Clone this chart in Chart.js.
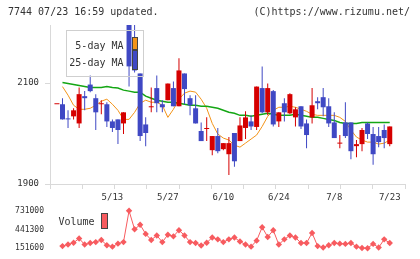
<!DOCTYPE html>
<html><head><meta charset="utf-8">
<script src="https://cdn.jsdelivr.net/npm/chart.js@4.4.1/dist/chart.umd.min.js"></script>
<style>
html,body{margin:0;padding:0;background:#fff;}
#wrap{position:relative;width:420px;height:259px;overflow:hidden;background:#fff;}
#main{position:absolute;left:0;top:0;}
#vol{position:absolute;left:0;top:200px;}
</style></head><body>
<div id="wrap"><canvas id="main" width="420" height="203"></canvas><canvas id="vol" width="420" height="59"></canvas></div>
<script>
const headerLeft = '7744 07/23 16:59 updated.';
const headerRight = '(C)https://www.rizumu.net/';
const dates = ['4/24','4/25','4/26','4/30','5/1','5/2','5/7','5/8','5/9','5/10','5/13','5/14','5/15','5/16','5/17','5/20','5/21','5/22','5/23','5/24','5/27','5/28','5/29','5/30','5/31','6/3','6/4','6/5','6/6','6/7','6/10','6/11','6/12','6/13','6/14','6/17','6/18','6/19','6/20','6/21','6/24','6/25','6/26','6/27','6/28','7/1','7/2','7/3','7/4','7/5','7/8','7/9','7/10','7/11','7/12','7/16','7/17','7/18','7/19','7/22','7/23'];
const xTickLabels = ['5/13','5/27','6/10','6/24','7/8','7/23'];
const yTicks = [1900, 2100];
const volTicks = [151600, 441300, 731000];
const open  = [2058,2058,2030,2034,2020,2074,2097,2070,2058,2058,2024,2028,2020,2225,2164,2119,2018,2052,2090,2058,2066,2090,2054,2119,2070,2050,2005,2009,1967,1995,1969,1959,2001,1985,2011,2024,2013,2090,2042,2084,2024,2060,2040,2032,2054,2020,2032,2064,2072,2054,2022,1980,2022,2022,1975,1979,2020,1999,1995,2007,1979];
const high  = [2058,2070,2046,2050,2091,2084,2115,2078,2066,2062,2028,2028,2042,2240,2240,2119,2032,2091,2115,2066,2099,2103,2149,2119,2076,2076,2022,2032,1995,2011,1981,1993,2001,2032,2044,2036,2093,2133,2099,2086,2042,2070,2080,2052,2054,2028,2090,2072,2090,2070,2042,1997,2062,2022,1987,2011,2022,2013,2013,2018,2014];
const low   = [2058,2028,2011,2028,2011,2046,2082,2007,2038,2013,2003,1979,1999,2093,2121,1985,1975,2042,2042,2042,2066,2054,2054,2058,2036,2020,1985,1985,1957,1961,1967,1918,1934,1985,1989,2007,2007,2040,2036,2014,2013,2024,2038,2014,2009,1971,2020,2048,2034,2013,1991,1971,1991,1949,1953,1965,1989,1938,1973,1971,1975];
const close = [2058,2028,2028,2046,2078,2070,2084,2042,2058,2024,2011,2007,2042,2133,2125,1995,2001,2052,2060,2052,2099,2054,2125,2088,2056,2020,1985,2009,1995,1965,1981,1981,1945,2016,2032,2014,2093,2042,2090,2018,2042,2042,2078,2048,2014,1997,2056,2060,2052,2020,1991,1980,1995,1965,1979,2007,1999,1959,1983,1991,2014];
const ma5  = [null,2093,2076,2056,2048,2048,2050,2056,2064,2068,2058,2046,2028,2028,2042,2060,2066,2062,2062,2056,2032,2048,2068,2080,2084,2082,2068,2050,2020,1999,1991,1987,1977,1973,1981,1989,1997,2014,2034,2046,2052,2052,2054,2052,2048,2044,2038,2036,2036,2036,2036,2032,2024,2007,1993,1987,1983,1983,1979,1981,1987];
const ma25 = [null,2101,2099,2097,2095,2093,2091,2091,2091,2093,2091,2090,2086,2084,2082,2082,2074,2070,2066,2064,2062,2062,2060,2058,2056,2056,2054,2054,2052,2050,2046,2042,2040,2036,2036,2034,2036,2038,2040,2038,2036,2036,2036,2038,2036,2034,2032,2032,2030,2028,2026,2022,2020,2020,2020,2022,2022,2022,2022,2022,2022];
const volume = [null,184100,208100,236400,302800,208100,232100,246300,278800,198200,175600,222200,246300,731000,444100,514800,373500,278800,349400,246300,359300,335300,430000,349400,246300,232100,194000,236400,316900,288700,246300,288700,316900,254800,208100,175600,268900,476600,325400,430000,208100,288700,349400,316900,232100,232100,387600,184100,161500,198200,232100,222200,218000,232100,175600,155000,151600,218000,161500,288700,232100];

const MONO = "'DejaVu Sans Mono', monospace";
const RED = '#d50000', BLUE = '#3f48c4', ORANGE = '#f39419', GREEN = '#14a614', VOLC = '#f75b5f';
const AXIS = '#d9d9d9', TXT = '#333';
const X_MIN = -1.25, X_MAX = 62.75;
const idx = dates.map((d, i) => i);
const candleColor = idx.map(i => close[i] >= open[i] ? RED : BLUE);

const headerPlugin = {
  id: 'header',
  afterDraw(chart) {
    const ctx = chart.ctx;
    ctx.save();
    ctx.font = '10px ' + MONO;
    ctx.fillStyle = TXT;
    ctx.textAlign = 'right';
    ctx.textBaseline = 'middle';
    ctx.fillText(headerRight, 410, 12.5);
    ctx.restore();
  }
};

const maLegend = {
  id: 'maLegend',
  afterDatasetsDraw(chart) {
    const ctx = chart.ctx, ds = chart.data.datasets;
    ctx.save();
    ctx.strokeStyle = '#cfcfcf';
    ctx.lineWidth = 1;
    ctx.strokeRect(66.5, 30.5, 77, 46);
    ctx.font = '10px ' + MONO;
    ctx.fillStyle = TXT;
    ctx.textAlign = 'right';
    ctx.textBaseline = 'middle';
    ctx.fillText(ds[0].label, 123.5, 46.5);
    ctx.fillText(ds[1].label, 123.5, 63);
    ctx.fillStyle = ds[0].borderColor;
    ctx.fillRect(132, 37, 6, 13);
    ctx.strokeStyle = '#444';
    ctx.strokeRect(132.5, 37.5, 5, 12);
    ctx.strokeRect(132.5, 50.5, 5, 19);
    ctx.restore();
  }
};

new Chart(document.getElementById('main'), {
  type: 'bar',
  data: {
    datasets: [
      { type: 'line', label: '5-day MA', data: idx.map(i => ({ x: i, y: ma5[i] })), borderColor: ORANGE, borderWidth: 1, pointRadius: 0, tension: 0, order: 3 },
      { type: 'line', label: '25-day MA', data: idx.map(i => ({ x: i, y: ma25[i] })), borderColor: GREEN, borderWidth: 1.5, pointRadius: 0, tension: 0, order: 2 },
      { label: 'wick', data: idx.map(i => ({ x: i, y: [low[i], high[i]] })), backgroundColor: candleColor, barThickness: 1, maxBarThickness: 1, inflateAmount: 0, grouped: false, clip: 0, order: 1 },
      { label: 'body', data: idx.map(i => ({ x: i, y: [Math.min(open[i], close[i]), Math.max(open[i], close[i])] })), backgroundColor: candleColor, barThickness: 5, maxBarThickness: 5, inflateAmount: 0, minBarLength: 1, grouped: false, clip: 0, order: 0 }
    ]
  },
  options: {
    responsive: false, animation: false,
    layout: { padding: { left: 8, right: 15, top: 0, bottom: 0 } },
    plugins: {
      legend: { display: false }, tooltip: { enabled: false },
      title: { display: true, text: headerLeft, align: 'start', color: TXT, font: { family: MONO, size: 10, weight: 'normal' }, padding: { top: 6.5, bottom: 6.5 } }
    },
    scales: {
      x: {
        type: 'linear', position: 'bottom', min: X_MIN, max: X_MAX, weight: 1, offset: false,
        afterBuildTicks: s => { s.ticks = xTickLabels.map(l => ({ value: dates.indexOf(l) })); },
        ticks: { callback: v => dates[v], color: TXT, font: { family: MONO, size: 9 }, padding: 3, maxRotation: 0, autoSkip: false },
        grid: { display: false, drawTicks: false, offset: false }, border: { display: false },
        afterFit: s => { s.height = 14; }
      },
      xm: {
        type: 'linear', position: 'bottom', min: X_MIN, max: X_MAX, weight: 0, offset: false,
        afterBuildTicks: s => { const n = 11; s.ticks = Array.from({ length: n + 1 }, (_, k) => ({ value: X_MIN + (X_MAX - X_MIN) * k / n })); },
        ticks: { display: false },
        grid: { display: true, drawOnChartArea: false, drawTicks: true, tickLength: 5, color: AXIS, offset: false },
        border: { display: true, color: AXIS },
        afterFit: s => { s.height = 5; }
      },
      y: {
        min: 1900, max: 2215,
        afterBuildTicks: s => { s.ticks = yTicks.map(v => ({ value: v })); },
        ticks: { callback: v => String(v), color: TXT, font: { family: MONO, size: 9 }, padding: 6 },
        grid: { display: true, drawOnChartArea: false, drawTicks: true, tickLength: 5, color: AXIS },
        border: { display: true, color: AXIS },
        afterFit: s => { s.width = 42; }
      }
    }
  },
  plugins: [headerPlugin, maLegend]
});

const volLegend = {
  id: 'volLegend',
  afterDatasetsDraw(chart) {
    const ctx = chart.ctx, ds = chart.data.datasets[0];
    ctx.save();
    ctx.font = '10px ' + MONO;
    ctx.fillStyle = TXT;
    ctx.textAlign = 'right';
    ctx.textBaseline = 'middle';
    ctx.fillText(ds.label, 94.5, 22);
    ctx.fillStyle = ds.borderColor;
    ctx.fillRect(101.5, 13.5, 6, 15);
    ctx.strokeStyle = '#444';
    ctx.lineWidth = 1;
    ctx.strokeRect(101.5, 13.5, 6, 15);
    ctx.restore();
  }
};

new Chart(document.getElementById('vol'), {
  type: 'line',
  data: {
    datasets: [{
      label: 'Volume', data: idx.map(i => ({ x: i, y: volume[i] })),
      borderColor: VOLC, backgroundColor: VOLC, borderWidth: 1,
      pointStyle: 'rectRot', pointRadius: 3.2, pointBorderWidth: 0, tension: 0, clip: false
    }]
  },
  options: {
    responsive: false, animation: false,
    layout: { padding: { left: 8, right: 15, top: 8.3, bottom: 9.8 } },
    plugins: { legend: { display: false }, tooltip: { enabled: false } },
    scales: {
      x: { type: 'linear', min: X_MIN, max: X_MAX, display: false },
      y: {
        min: volTicks[0], max: volTicks[volTicks.length - 1],
        afterBuildTicks: s => { s.ticks = volTicks.map(v => ({ value: v })); },
        ticks: { callback: v => String(v), color: TXT, font: { family: MONO, size: 8 }, padding: 6 },
        grid: { display: false, drawTicks: false }, border: { display: false },
        afterFit: s => { s.width = 42; }
      }
    }
  },
  plugins: [volLegend]
});
</script>
</body></html>
